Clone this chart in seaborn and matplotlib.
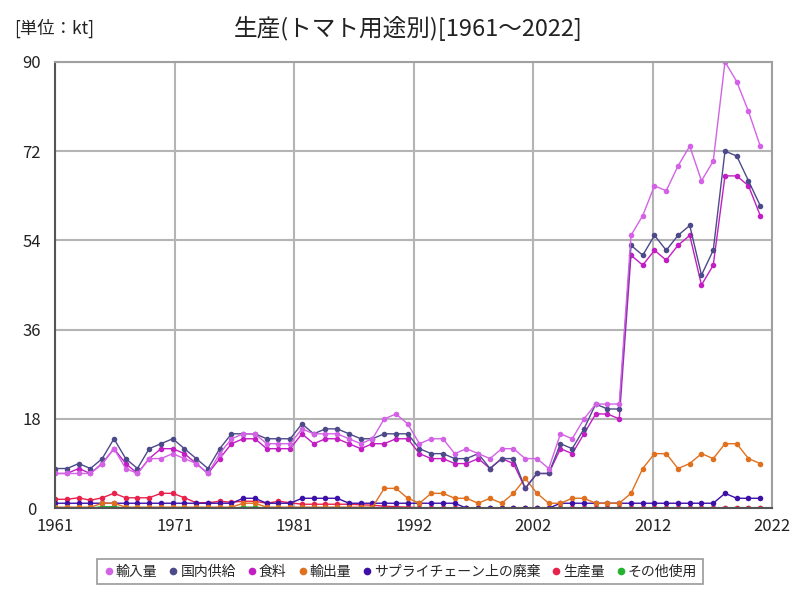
import matplotlib
matplotlib.use("Agg")
import matplotlib.pyplot as plt
from matplotlib.lines import Line2D
import numpy as np
import pandas as pd
import seaborn as sns

sns.set_theme(style="white")
plt.rcParams['font.family'] = ['Noto Sans CJK JP', 'DejaVu Sans']

years = list(range(1961, 2022))

import_vals = [7, 7, 7, 7, 9, 12, 8, 7, 10, 10,
               11, 10, 9, 7, 11, 14, 15, 15, 13, 13,
               13, 16, 15, 15, 15, 14, 13, 14, 18, 19,
               17, 13, 14, 14, 11, 12, 11, 10, 12, 12,
               10, 10, 8, 15, 14, 18, 21, 21, 21, 55,
               59, 65, 64, 69, 73, 66, 70, 90, 86, 80,
               73]
domestic_vals = [8, 8, 9, 8, 10, 14, 10, 8, 12, 13,
                 14, 12, 10, 8, 12, 15, 15, 15, 14, 14,
                 14, 17, 15, 16, 16, 15, 14, 14, 15, 15,
                 15, 12, 11, 11, 10, 10, 11, 8, 10, 10,
                 4, 7, 7, 13, 12, 16, 21, 20, 20, 53,
                 51, 55, 52, 55, 57, 47, 52, 72, 71, 66,
                 61]
food_vals = [7, 7, 8, 7, 9, 12, 9, 7, 10, 12,
             12, 11, 9, 7, 10, 13, 14, 14, 12, 12,
             12, 15, 13, 14, 14, 13, 12, 13, 13, 14,
             14, 11, 10, 10, 9, 9, 10, 8, 10, 9,
             4, 7, 7, 12, 11, 15, 19, 19, 18, 51,
             49, 52, 50, 53, 55, 45, 49, 67, 67, 65,
             59]
export_vals = [0.2, 0.2, 0.2, 0.2, 1, 1, 0.2, 0.2, 0.2, 0.2,
               0.2, 0.2, 0.2, 0.2, 0.2, 0.2, 1, 1, 0.2, 0.2,
               0.2, 0.2, 0.2, 0.2, 0.2, 0.2, 0.2, 0.2, 4, 4,
               2, 1, 3, 3, 2, 2, 1, 2, 1, 3,
               6, 3, 1, 1, 2, 2, 1, 1, 1, 3,
               8, 11, 11, 8, 9, 11, 10, 13, 13, 10,
               9]
waste_vals = [1, 1, 1, 1, 1, 1, 1, 1, 1, 1,
              1, 1, 1, 1, 1, 1, 2, 2, 1, 1,
              1, 2, 2, 2, 2, 1, 1, 1, 1, 1,
              1, 1, 1, 1, 1, 0, 0, 0, 0, 0,
              0, 0, 0, 1, 1, 1, 1, 1, 1, 1,
              1, 1, 1, 1, 1, 1, 1, 3, 2, 2,
              2]
production_vals = [1.8, 1.8, 2.1, 1.6, 2.1, 3.0, 2.1, 2.1, 2.1, 3.0,
                   3.0, 2.1, 1.1, 1.1, 1.4, 1.2, 1.4, 1.4, 1.0, 1.4,
                   1.1, 0.8, 0.8, 0.8, 0.8, 0.8, 0.7, 0.6, 0.4, 0.3,
                   0.2, 0.1, 0.1, 0.1, 0.1, 0.1, 0.1, 0.1, 0.1, 0.1,
                   0.1, 0.1, 0.1, 0.1, 0.1, 0.1, 0.1, 0.1, 0.1, 0.1,
                   0.1, 0.1, 0.1, 0.1, 0.1, 0.1, 0.1, 0.1, 0.1, 0.1,
                   0.1]
other_vals = [0, 0, 0, 0, 0.3, 0.3, 0, 0, 0, 0,
              0, 0, 0, 0, 0, 0, 0.2, 0.2, 0, 0,
              0, 0, 0, 0, 0, 0, 0, 0, 0, 0,
              0, 0, 0, 0, 0, 0, 0, 0, 0, 0,
              0, 0, 0, 0, 0, 0, 0, 0, 0, 0,
              0, 0, 0, 0, 0, 0, 0, 0, 0, 0,
              0]

series_names = ["輸入量", "国内供給", "食料", "輸出量", "サプライチェーン上の廃棄", "生産量", "その他使用"]
series_vals = [import_vals, domestic_vals, food_vals, export_vals, waste_vals, production_vals, other_vals]
colors = ["#d362e6", "#4d4a8a", "#c21ec4", "#e0701e", "#3c10a8", "#e8224c", "#22b22e"]

yticks = [0, 18, 36, 54, 72, 90]
xtick_pos = np.linspace(1961, 2022, 7)
xtick_labels = ["1961", "1971", "1981", "1992", "2002", "2012", "2022"]

rows = []
for name, vals in zip(series_names, series_vals):
    for yr, v in zip(years, vals):
        rows.append({"year": yr, "value": v, "series": name})
df = pd.DataFrame(rows)

fig = plt.figure(figsize=(8, 6), dpi=100)
ax = fig.add_axes([0.069, 0.153, 0.896, 0.744])

draw_order = ["その他使用", "生産量", "サプライチェーン上の廃棄", "輸出量", "食料", "国内供給", "輸入量"]
for name in draw_order:
    i = series_names.index(name)
    sub = df[df["series"] == name]
    sns.lineplot(data=sub, x="year", y="value", ax=ax, color=colors[i],
                 marker="o", markersize=4, markeredgewidth=0, linewidth=1.0,
                 legend=False)

ax.set_xlim(1961, 2022)
ax.set_ylim(0, 90)
ax.set_yticks(yticks)
ax.set_xticks(xtick_pos)
ax.set_xticklabels(xtick_labels)
ax.set_xlabel("")
ax.set_ylabel("")
ax.grid(True, color="#b4b4b4", linewidth=1.5)
ax.set_axisbelow(True)
ax.tick_params(axis="x", length=0, labelsize=12, colors="#222222", pad=7)
ax.tick_params(axis="y", length=0, labelsize=12, colors="#222222", pad=17)
for lbl in ax.get_yticklabels():
    lbl.set_horizontalalignment("center")
for s in ["top", "right"]:
    ax.spines[s].set_color("#a0a0a0")
    ax.spines[s].set_linewidth(1.5)
for s in ["left", "bottom"]:
    ax.spines[s].set_color("#555555")
    ax.spines[s].set_linewidth(1.5)

fig.text(0.51, 0.953, "生産(トマト用途別)[1961～2022]", ha="center", va="center", fontsize=17, color="#222222")
fig.text(0.018, 0.953, "[単位：kt]", ha="left", va="center", fontsize=12.5, color="#222222")

handles = [Line2D([0], [0], marker="o", linestyle="", color=c, markersize=5.5, markeredgewidth=0)
           for c in colors]
leg = fig.legend(handles, series_names, loc="center", bbox_to_anchor=(0.5, 0.047), ncol=7,
                 frameon=True, fontsize=10, handletextpad=0.05, columnspacing=0.7,
                 borderpad=0.4, fancybox=False, handlelength=0.9)
leg.get_frame().set_edgecolor("#808080")
leg.get_frame().set_linewidth(1.2)

fig.savefig("out.png", dpi=100)
